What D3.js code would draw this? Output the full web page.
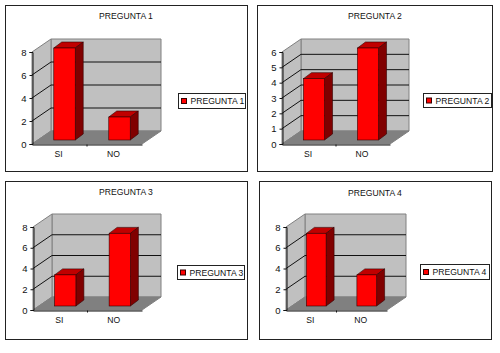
<!DOCTYPE html>
<html>
<head>
<meta charset="utf-8">
<script src="https://cdn.jsdelivr.net/npm/d3@7"></script>
<style>
  body { margin: 0; background: #fff; }
  svg { display: block; }
  text { font-family: "Liberation Sans", Arial, sans-serif; fill: #111; }
</style>
</head>
<body>
<script>
// Chart data
var categories = ["SI", "NO"];
var titles = ["PREGUNTA 1", "PREGUNTA 2", "PREGUNTA 3", "PREGUNTA 4"];
var pregunta1 = [8, 2];
var pregunta2 = [4, 6];
var pregunta3 = [3, 7];
var pregunta4 = [7, 3];
var ticks1 = [0, 2, 4, 6, 8];
var ticks2 = [0, 1, 2, 3, 4, 5, 6];
var ticks3 = [0, 2, 4, 6, 8];
var ticks4 = [0, 2, 4, 6, 8];

var allValues = [pregunta1, pregunta2, pregunta3, pregunta4];
var allTicks = [ticks1, ticks2, ticks3, ticks4];

// Where each chart sits on the page
var panels = [
  { x0: 5.5, y0: 5.5, x1: 247.5, y1: 171.5, left: 32, right: 142, bottom: 144, top: 52, titleX: 126, titleY: 19, legX: 178, legY: 93, legW: 67, legH: 15 },
  { x0: 257.5, y0: 5.5, x1: 492.5, y1: 171.5, left: 282, right: 390, bottom: 144, top: 52, titleX: 375, titleY: 19, legX: 423, legY: 93, legW: 68, legH: 14 },
  { x0: 5.5, y0: 181.5, x1: 247.5, y1: 339.5, left: 33, right: 142, bottom: 310, top: 227, titleX: 126, titleY: 195, legX: 177, legY: 265, legW: 67, legH: 14 },
  { x0: 259.5, y0: 181.5, x1: 491.5, y1: 339.5, left: 286, right: 387, bottom: 310, top: 227, titleX: 375, titleY: 196, legX: 420, legY: 264, legW: 69, legH: 15 }
];

// 3D depth of the box and of the bars
var depthX = 19;
var depthY = -13;
var barOffsetX = 5;
var barOffsetY = -4;
var barDepthX = 8;
var barDepthY = -6;

var svg = d3.select("body")
  .append("svg")
  .attr("width", 500)
  .attr("height", 353);

function points(list) {
  return list.map(p => p.join(",")).join(" ");
}

panels.forEach(function(p, i) {
  var values = allValues[i];
  var tickValues = allTicks[i];

  var chart = svg.append("g");

  // frame
  chart.append("rect")
    .attr("x", p.x0)
    .attr("y", p.y0)
    .attr("width", p.x1 - p.x0)
    .attr("height", p.y1 - p.y0)
    .attr("fill", "#fff")
    .attr("stroke", "#222")
    .attr("stroke-width", 1);

  chart.append("text")
    .attr("x", p.titleX)
    .attr("y", p.titleY)
    .attr("text-anchor", "middle")
    .attr("font-size", 8.6)
    .text(titles[i]);

  var xScale = d3.scaleBand()
    .domain(categories)
    .range([p.left, p.right]);

  var yScale = d3.scaleLinear()
    .domain([0, d3.max(tickValues)])
    .range([p.bottom, p.top]);

  // back wall, side wall, floor
  chart.append("polygon")
    .attr("points", points([
      [p.left + depthX, p.top + depthY], [p.right + depthX, p.top + depthY],
      [p.right + depthX, p.bottom + depthY], [p.left + depthX, p.bottom + depthY]
    ]))
    .attr("fill", "#c0c0c0")
    .attr("stroke", "#808080");

  chart.append("polygon")
    .attr("points", points([
      [p.left, p.top], [p.left + depthX, p.top + depthY],
      [p.left + depthX, p.bottom + depthY], [p.left, p.bottom]
    ]))
    .attr("fill", "#c0c0c0")
    .attr("stroke", "#808080");

  chart.append("polygon")
    .attr("points", points([
      [p.left, p.bottom], [p.left + depthX, p.bottom + depthY],
      [p.right + depthX, p.bottom + depthY], [p.right, p.bottom]
    ]))
    .attr("fill", "#808080")
    .attr("stroke", "#808080");

  // gridlines on both walls
  chart.selectAll(".grid")
    .data(tickValues.filter(d => d > 0 && d < d3.max(tickValues)))
    .enter()
    .append("polyline")
    .classed("grid", true)
    .attr("points", d => points([
      [p.left, yScale(d)],
      [p.left + depthX, yScale(d) + depthY],
      [p.right + depthX, yScale(d) + depthY]
    ]))
    .attr("fill", "none")
    .attr("stroke", "#111")
    .attr("stroke-width", 1);

  // bars
  var bandW = xScale.bandwidth();
  var barW = bandW * 0.39;

  var bars = chart.selectAll(".bar")
    .data(values)
    .enter()
    .append("g")
    .classed("bar", true)
    .attr("transform", (d, j) =>
      `translate(${xScale(categories[j]) + (bandW - barW) / 2 + barOffsetX}, ${barOffsetY})`);

  bars.append("polygon")
    .attr("points", d => points([
      [0, yScale(d)], [barDepthX, yScale(d) + barDepthY],
      [barW + barDepthX, yScale(d) + barDepthY], [barW, yScale(d)]
    ]))
    .attr("fill", "#c00000")
    .attr("stroke", "#300")
    .attr("stroke-width", 0.6);

  bars.append("polygon")
    .attr("points", d => points([
      [barW, yScale(d)], [barW + barDepthX, yScale(d) + barDepthY],
      [barW + barDepthX, p.bottom + barDepthY], [barW, p.bottom]
    ]))
    .attr("fill", "#800000")
    .attr("stroke", "#300")
    .attr("stroke-width", 0.6);

  bars.append("rect")
    .attr("x", 0)
    .attr("y", d => yScale(d))
    .attr("width", barW)
    .attr("height", d => p.bottom - yScale(d))
    .attr("fill", "#ff0000")
    .attr("stroke", "#300")
    .attr("stroke-width", 0.6);

  // axes
  var yAxis = d3.axisLeft(yScale)
    .tickValues(tickValues)
    .tickFormat(d3.format("d"))
    .tickSize(3)
    .tickPadding(3);

  var xAxis = d3.axisBottom(xScale)
    .tickSize(0)
    .tickPadding(6);

  var yAxisGroup = chart.append("g")
    .attr("transform", `translate(${p.left + 0.5}, 0)`)
    .call(yAxis);

  var xAxisGroup = chart.append("g")
    .attr("transform", `translate(0, ${p.bottom + 0.5})`)
    .call(xAxis);

  // small mark between the two categories
  xAxisGroup.append("line")
    .attr("x1", xScale(categories[1]))
    .attr("x2", xScale(categories[1]))
    .attr("y1", 0)
    .attr("y2", 2)
    .attr("stroke", "#111");

  yAxisGroup.selectAll("path, line").attr("stroke", "#111");
  xAxisGroup.selectAll("path").attr("stroke", "#111");
  yAxisGroup.selectAll("text").attr("font-size", 9.5).attr("font-family", "Liberation Sans");
  xAxisGroup.selectAll("text").attr("font-size", 8.6).attr("font-family", "Liberation Sans");
  xAxisGroup.selectAll(".tick text").attr("dx", -1);

  // legend
  var legend = chart.append("g")
    .attr("transform", `translate(${p.legX + 0.5}, ${p.legY + 0.5})`);

  legend.append("rect")
    .attr("width", p.legW)
    .attr("height", p.legH)
    .attr("fill", "#fff")
    .attr("stroke", "#222");

  legend.append("rect")
    .attr("x", 3)
    .attr("y", p.legH / 2 - 2.5)
    .attr("width", 5)
    .attr("height", 5)
    .attr("fill", "#ff0000")
    .attr("stroke", "#300");

  legend.append("text")
    .attr("x", 12)
    .attr("y", p.legH / 2 + 3)
    .attr("font-size", 8.6)
    .text(titles[i]);
});
</script>
</body>
</html>
